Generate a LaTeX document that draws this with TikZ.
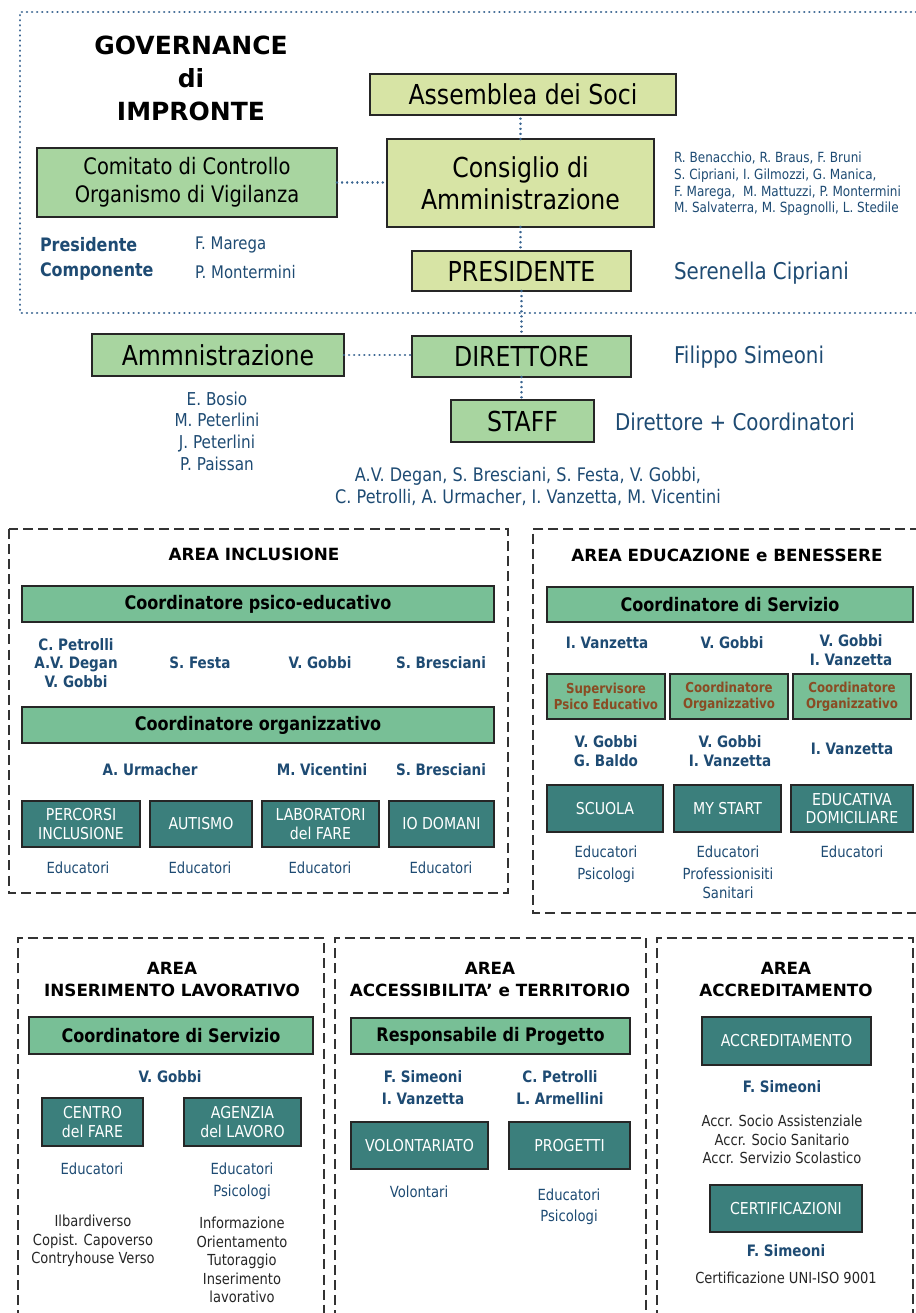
\documentclass[tikz,border=0pt]{standalone}
\usepackage{fontspec}
\newfontfamily\fn[FakeStretch=0.86]{DejaVu Sans}
\newfontfamily\fw{DejaVu Sans}
\definecolor{yg}{HTML}{D7E4A5}
\definecolor{lg}{HTML}{A8D5A0}
\definecolor{mg}{HTML}{78BF96}
\definecolor{tl}{HTML}{3B7F7C}
\definecolor{blu}{HTML}{1E4B73}
\definecolor{brn}{HTML}{8A4B23}
\definecolor{dotc}{HTML}{3A6591}
\definecolor{dashc}{HTML}{333333}
\definecolor{bord}{HTML}{262626}
\newcommand\fs[2]{\fontsize{#1}{#2}\selectfont}
\newcommand\BX[7]{\node[#1, minimum width={(#5-#3)*0.75pt}, minimum height={(#6-#4)*0.75pt}] (#2) at ({(#3+#5)/2},{(#4+#6)/2}) {#7};}
\begin{document}
\begin{tikzpicture}[x=0.75pt,y=-0.75pt,
  base/.style={inner sep=0pt, outer sep=0pt, align=center},
  ygbox/.style={base, draw=bord, line width=1.5pt, fill=yg, font=\fn\fs{20.6}{24}},
  lgbox/.style={base, draw=bord, line width=1.5pt, fill=lg, font=\fn\fs{20.6}{24}},
  cobox/.style={base, draw=bord, line width=1.3pt, fill=mg, font=\fn\bfseries\fs{14}{17}},
  brbox/.style={base, draw=bord, line width=1.3pt, fill=mg, text=brn, font=\fn\bfseries\fs{10.3}{12.3}},
  tlbox/.style={base, draw=bord, line width=1.5pt, fill=tl, text=white, font=\fn\fs{12.3}{14}},
  nm/.style={base, text=blu, font=\fn\bfseries\fs{11.8}{13.8}},
  ed/.style={base, text=blu, font=\fn\fs{11.5}{14}},
  sm/.style={base, text=black!85, font=\fn\fs{11.4}{13.9}},
  areat/.style={base, font=\fw\bfseries\fs{12.6}{16.5}},
  dotl/.style={draw=dotc, line width=1.9pt, line cap=round, dash pattern=on 0.01pt off 3.8pt},
  dashf/.style={draw=dashc, line width=1.5pt, dash pattern=on 7.5pt off 3.8pt}]
\useasboundingbox (0,0) rectangle (916,1313);
\fill[white] (0,0) rectangle (916,1313);
\clip (0,0) rectangle (916,1313);

% ---------- Governance ----------
\draw[dotl] (916,12) -- (20,12) -- (20,313) -- (916,313);
\node[base, font=\fw\bfseries\fs{18.75}{24.75}] (gov) at (191,78) {GOVERNANCE\\di\\IMPRONTE};
\BX{ygbox}{assem}{370}{74}{676}{115}{Assemblea dei Soci}
\BX{ygbox}{cons}{387}{139}{654}{227}{Consiglio di\\Amministrazione}
\BX{ygbox}{pres}{412}{251}{631}{291}{PRESIDENTE}
\BX{lgbox, font=\fn\fs{17}{21}}{comit}{37}{148}{337}{217}{Comitato di Controllo\\Organismo di Vigilanza}
\node[base, anchor=west, align=left, text=blu, font=\fn\fs{10.5}{12.5}] (cdan) at (674,184)
  {R. Benacchio, R. Braus, F. Bruni\\S. Cipriani, I. Gilmozzi, G. Manica,\\F. Marega,\ \ M. Mattuzzi, P. Montermini\\M. Salvaterra, M. Spagnolli, L. Stedile};
\node[base, anchor=west, text=blu, font=\fn\fs{17.3}{20}] (seren) at (674,273) {Serenella Cipriani};
\node[base, anchor=west, text=blu, font=\fn\bfseries\fs{13.9}{16}] (presl) at (40,245) {Presidente};
\node[base, anchor=west, text=blu, font=\fn\fs{13}{16}] (presn) at (195,245) {F. Marega};
\node[base, anchor=west, text=blu, font=\fn\bfseries\fs{13.9}{16}] (compl) at (40,272) {Componente};
\node[base, anchor=west, text=blu, font=\fn\fs{13}{16}] (compn) at (195,272) {P. Montermini};
\draw[dotl] (comit.east) -- (comit.east -| cons.west);
\draw[dotl] (cons.north) -- (cons.north |- assem.south);
\draw[dotl] (cons.south) -- (cons.south |- pres.north);

% ---------- Direzione ----------
\BX{lgbox}{amm}{92}{334}{344}{376}{Ammnistrazione}
\BX{lgbox}{dir}{412}{336}{631}{377}{DIRETTORE}
\BX{lgbox}{staff}{451}{400}{594}{442}{STAFF}
\draw[dotl] (amm.east) -- (amm.east -| dir.west);
\draw[dotl] (pres.south) -- (dir.north);
\draw[dotl] (dir.south) -- (dir.south |- staff.north);
\node[base, anchor=west, text=blu, font=\fn\fs{17.3}{20}] (filip) at (674,357) {Filippo Simeoni};
\node[base, anchor=west, text=blu, font=\fn\fs{17.3}{20}] (dirco) at (615,422) {Direttore + Coordinatori};
\node[base, text=blu, font=\fn\fs{13.3}{16.3}] (ammn) at (217,431) {E. Bosio\\M. Peterlini\\J. Peterlini\\P. Paissan};
\node[base, text=blu, font=\fn\fs{14}{16.5}] (staffn) at (528,486) {A.V. Degan, S. Bresciani, S. Festa, V. Gobbi,\\C. Petrolli, A. Urmacher, I. Vanzetta, M. Vicentini};

% ---------- Area Inclusione ----------
\draw[dashf] (8.5,529) rectangle (508,893);
\node[areat] (ainc) at (254,554) {AREA INCLUSIONE};
\BX{cobox}{cpe}{22}{586}{494}{622}{Coordinatore psico-educativo}
\node[nm] (i1) at (76,663) {C. Petrolli\\A.V. Degan\\V. Gobbi};
\node[nm] (i2) at (200,663) {S. Festa};
\node[nm] (i3) at (320,663) {V. Gobbi};
\node[nm] (i4) at (441,663) {S. Bresciani};
\BX{cobox}{cor}{22}{707}{494}{743}{Coordinatore organizzativo}
\node[nm] (i5) at (150,770) {A. Urmacher};
\node[nm] (i6) at (322,770) {M. Vicentini};
\node[nm] (i7) at (441,770) {S. Bresciani};
\BX{tlbox}{perc}{22}{801}{140}{847}{PERCORSI\\INCLUSIONE}
\BX{tlbox}{aut}{150}{801}{252}{847}{AUTISMO}
\BX{tlbox}{lab}{262}{801}{379}{847}{LABORATORI\\del FARE}
\BX{tlbox}{iod}{389}{801}{494}{847}{IO DOMANI}
\node[ed] (e1) at (78,868) {Educatori};
\node[ed] (e2) at (200,868) {Educatori};
\node[ed] (e3) at (320,868) {Educatori};
\node[ed] (e4) at (441,868) {Educatori};

% ---------- Area Educazione e Benessere ----------
\draw[dashf] (920,529) -- (533,529) -- (533,913) -- (920,913);
\node[areat] (aedu) at (727,555) {AREA EDUCAZIONE e BENESSERE};
\BX{cobox}{cds}{547}{587}{913}{622}{Coordinatore di Servizio}
\node[nm] (b1) at (607,643) {I. Vanzetta};
\node[nm] (b2) at (732,643) {V. Gobbi};
\node[nm] (b3) at (851,650) {V. Gobbi\\I. Vanzetta};
\BX{brbox}{sup}{547}{674}{665}{719}{Supervisore\\Psico Educativo}
\BX{brbox}{co1}{670}{674}{788}{719}{Coordinatore\\Organizzativo}
\BX{brbox}{co2}{793}{674}{911}{719}{Coordinatore\\Organizzativo}
\node[nm] (b4) at (606,751) {V. Gobbi\\G. Baldo};
\node[nm] (b5) at (730,751) {V. Gobbi\\I. Vanzetta};
\node[nm] (b6) at (852,749) {I. Vanzetta};
\BX{tlbox}{scu}{547}{785}{663}{832}{SCUOLA}
\BX{tlbox}{mys}{674}{785}{781}{832}{MY START}
\BX{tlbox}{edd}{791}{785}{913}{832}{EDUCATIVA\\DOMICILIARE}
\node[ed] (f1) at (606,852) {Educatori};
\node[ed] (f2) at (606,875) {Psicologi};
\node[ed] (f3) at (728,852) {Educatori};
\node[ed, font=\fn\fs{11.5}{14.25}] (f4) at (728,883.5) {Professionisiti\\Sanitari};
\node[ed] (f5) at (852,852) {Educatori};

% ---------- Area Inserimento Lavorativo ----------
\draw[dashf] (18,1320) -- (18,938) -- (324,938) -- (324,1320);
\node[areat] (ains) at (172,979) {AREA\\INSERIMENTO LAVORATIVO};
\BX{cobox}{cds2}{29}{1017}{313}{1054}{Coordinatore di Servizio}
\node[nm] (g1) at (170,1077) {V. Gobbi};
\BX{tlbox}{cfare}{42}{1098}{143}{1146}{CENTRO\\del FARE}
\BX{tlbox}{agl}{184}{1098}{301}{1146}{AGENZIA\\del LAVORO}
\node[ed] (h1) at (92,1169) {Educatori};
\node[ed] (h2) at (242,1169) {Educatori};
\node[ed] (h3) at (242,1192) {Psicologi};
\node[sm] (h4) at (93,1241) {Ilbardiverso\\Copist. Capoverso\\Contryhouse Verso};
\node[sm] (h5) at (242,1260) {Informazione\\Orientamento\\Tutoraggio\\Inserimento\\lavorativo};

% ---------- Area Accessibilita' ----------
\draw[dashf] (335,1320) -- (335,938) -- (646,938) -- (646,1320);
\node[areat] (aacc) at (490,979) {AREA\\ACCESSIBILITA’ e TERRITORIO};
\BX{cobox}{resp}{351}{1018}{630}{1054}{Responsabile di Progetto}
\node[nm, font=\fn\bfseries\fs{11.8}{16}] (k1) at (423,1087.5) {F. Simeoni\\I. Vanzetta};
\node[nm, font=\fn\bfseries\fs{11.8}{16}] (k2) at (560,1087.5) {C. Petrolli\\L. Armellini};
\BX{tlbox}{vol}{351}{1122}{488}{1169}{VOLONTARIATO}
\BX{tlbox}{prog}{509}{1122}{630}{1169}{PROGETTI}
\node[ed] (k3) at (419,1192) {Volontari};
\node[ed] (k4) at (569,1195) {Educatori};
\node[ed] (k5) at (569,1217) {Psicologi};

% ---------- Area Accreditamento ----------
\draw[dashf] (657,1320) -- (657,938) -- (913,938) -- (913,1320);
\node[areat] (aacr) at (786,979) {AREA\\ACCREDITAMENTO};
\BX{tlbox}{accr}{702}{1017}{871}{1065}{ACCREDITAMENTO}
\node[nm] (m1) at (782,1087) {F. Simeoni};
\node[sm] (m2) at (782,1139.5) {Accr. Socio Assistenziale\\Accr. Socio Sanitario\\Accr. Servizio Scolastico};
\BX{tlbox}{cert}{710}{1185}{862}{1232}{CERTIFICAZIONI}
\node[nm] (m3) at (786,1251) {F. Simeoni};
\node[sm] (m4) at (786,1278) {Certificazione UNI-ISO 9001};
\end{tikzpicture}
\end{document}
